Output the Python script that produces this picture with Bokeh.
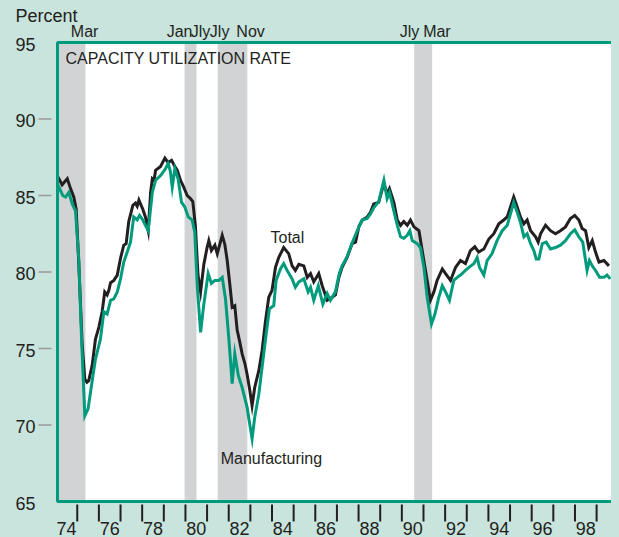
from bokeh.plotting import figure
from bokeh.models import Range1d, BoxAnnotation
from bokeh.core.properties import value
from bokeh.embed import file_html
from bokeh.resources import INLINE

# ---------------- data ----------------
total_x = [1974.09, 1974.15, 1974.30, 1974.42, 1974.54, 1974.69, 1974.84, 1974.95, 1975.07, 1975.23,
           1975.35, 1975.45, 1975.53, 1975.69, 1975.84, 1976.00, 1976.15, 1976.27, 1976.38, 1976.46,
           1976.54, 1976.69, 1976.85, 1977.00, 1977.15, 1977.26, 1977.38, 1977.57, 1977.69, 1977.77,
           1977.85, 1978.03, 1978.15, 1978.28, 1978.39, 1978.47, 1978.55, 1978.62, 1978.85, 1979.05,
           1979.20, 1979.36, 1979.51, 1979.62, 1979.77, 1979.92, 1980.08, 1980.23, 1980.34, 1980.46,
           1980.58, 1980.70, 1980.85, 1981.00, 1981.08, 1981.20, 1981.36, 1981.47, 1981.70, 1981.82,
           1981.93, 1982.05, 1982.16, 1982.28, 1982.39, 1982.50, 1982.62, 1982.75, 1982.85, 1982.97,
           1983.08, 1983.20, 1983.39, 1983.54, 1983.70, 1983.85, 1984.00, 1984.16, 1984.31, 1984.54,
           1984.77, 1984.93, 1985.08, 1985.24, 1985.47, 1985.63, 1985.78, 1985.93, 1986.16, 1986.32,
           1986.55, 1986.78, 1986.93, 1987.09, 1987.24, 1987.47, 1987.70, 1987.86, 1988.01, 1988.17,
           1988.40, 1988.55, 1988.70, 1988.93, 1989.17, 1989.32, 1989.43, 1989.63, 1989.79, 1989.94,
           1990.09, 1990.25, 1990.40, 1990.56, 1990.79, 1990.94, 1991.17, 1991.32, 1991.48, 1991.63,
           1991.87, 1992.02, 1992.25, 1992.48, 1992.71, 1992.94, 1993.17, 1993.37, 1993.55, 1993.79,
           1994.02, 1994.25, 1994.48, 1994.71, 1994.87, 1995.02, 1995.17, 1995.33, 1995.48, 1995.64,
           1995.79, 1995.95, 1996.18, 1996.30, 1996.41, 1996.64, 1996.87, 1997.10, 1997.33, 1997.56,
           1997.79, 1997.99, 1998.18, 1998.33, 1998.49, 1998.64, 1998.80, 1998.95, 1999.11, 1999.34,
           1999.57]
total_y = [86.0, 86.1, 85.7, 85.9, 86.1, 85.45, 84.9, 84.1, 80.6, 75.2,
           73.0, 72.8, 72.9, 73.9, 75.6, 76.4, 77.4, 78.7, 78.5, 78.8,
           79.3, 79.45, 79.8, 80.9, 81.75, 81.85, 83.3, 84.35, 84.5, 84.3,
           84.7, 84.1, 83.6, 82.7, 85.2, 86.1, 86.0, 86.65, 86.9, 87.45,
           87.15, 87.3, 86.9, 86.65, 86.0, 85.55, 85.0, 84.8, 84.6, 83.0,
           79.8, 78.7, 80.5, 81.6, 82.05, 81.4, 81.75, 81.2, 82.4, 81.8,
           80.75, 79.2, 77.7, 77.8, 76.2, 75.5, 74.65, 74.0, 73.3, 72.3,
           71.25, 72.45, 73.55, 74.85, 76.8, 78.35, 78.8, 80.3, 80.95, 81.6,
           81.2, 80.4, 80.1, 80.5, 80.4, 79.65, 79.9, 79.35, 79.9, 79.1,
           78.15, 78.35, 78.5, 79.65, 80.3, 80.95, 81.85, 81.95, 82.95, 83.4,
           83.6, 83.9, 84.45, 84.55, 85.8, 85.1, 85.45, 84.55, 83.4, 83.05,
           83.3, 83.05, 83.4, 82.95, 82.7, 81.4, 79.45, 78.15, 78.7, 79.45,
           80.2, 79.9, 79.45, 80.3, 80.75, 80.55, 81.4, 81.65, 81.3, 81.5,
           82.15, 82.5, 83.15, 83.4, 83.6, 84.25, 84.9, 84.25, 83.6, 83.15,
           83.4, 82.7, 82.3, 81.95, 82.5, 83.05, 82.7, 82.5, 82.7, 82.95,
           83.5, 83.7, 83.4, 82.85, 82.7, 81.6, 82.05, 81.3, 80.65, 80.75,
           80.4]

mfg_x = [1974.09, 1974.15, 1974.33, 1974.46, 1974.61, 1974.77, 1974.92, 1975.07, 1975.20, 1975.35,
         1975.50, 1975.66, 1975.84, 1976.07, 1976.23, 1976.38, 1976.54, 1976.69, 1976.85, 1977.00,
         1977.15, 1977.31, 1977.46, 1977.61, 1977.77, 1977.88, 1978.03, 1978.15, 1978.28, 1978.47,
         1978.62, 1978.85, 1979.08, 1979.20, 1979.30, 1979.39, 1979.51, 1979.66, 1979.82, 1979.97,
         1980.13, 1980.31, 1980.43, 1980.55, 1980.70, 1980.85, 1981.05, 1981.20, 1981.36, 1981.54,
         1981.70, 1981.85, 1982.00, 1982.16, 1982.28, 1982.44, 1982.62, 1982.85, 1983.00, 1983.08,
         1983.20, 1983.39, 1983.54, 1983.73, 1983.88, 1984.08, 1984.19, 1984.39, 1984.54, 1984.70,
         1984.93, 1985.08, 1985.24, 1985.47, 1985.67, 1985.78, 1985.93, 1986.14, 1986.35, 1986.55,
         1986.70, 1986.93, 1987.11, 1987.24, 1987.47, 1987.70, 1988.00, 1988.17, 1988.40, 1988.55,
         1988.70, 1988.93, 1989.17, 1989.32, 1989.43, 1989.63, 1989.79, 1989.94, 1990.09, 1990.25,
         1990.37, 1990.48, 1990.71, 1990.86, 1991.02, 1991.17, 1991.37, 1991.53, 1991.71, 1991.87,
         1992.02, 1992.20, 1992.40, 1992.56, 1992.71, 1992.94, 1993.10, 1993.33, 1993.48, 1993.59,
         1993.79, 1993.94, 1994.17, 1994.40, 1994.64, 1994.87, 1995.02, 1995.17, 1995.33, 1995.48,
         1995.64, 1995.79, 1995.95, 1996.10, 1996.21, 1996.33, 1996.49, 1996.67, 1996.87, 1997.10,
         1997.33, 1997.56, 1997.79, 1997.99, 1998.18, 1998.36, 1998.56, 1998.67, 1998.80, 1998.95,
         1999.14, 1999.34, 1999.48, 1999.63]
mfg_y = [85.4, 85.55, 85.0, 84.9, 85.2, 84.45, 84.0, 80.85, 75.6, 70.6,
         71.05, 72.6, 74.3, 75.6, 77.4, 77.25, 78.15, 78.25, 78.7, 79.55,
         80.65, 81.3, 81.95, 83.6, 83.4, 83.7, 83.4, 83.05, 82.7, 85.2,
         86.0, 86.3, 86.75, 87.1, 86.6, 85.55, 86.75, 86.1, 84.55, 84.25,
         83.6, 83.4, 82.6, 79.0, 76.05, 77.9, 79.9, 79.25, 79.45, 79.45,
         79.65, 78.25, 75.75, 72.7, 74.65, 73.25, 72.45, 71.15, 69.8, 69.1,
         70.5, 72.0, 73.75, 75.95, 77.6, 77.8, 79.45, 80.2, 80.55, 80.1,
         79.55, 79.0, 79.35, 79.55, 78.7, 79.0, 78.15, 79.1, 77.9, 78.6,
         78.15, 78.7, 79.9, 80.4, 81.0, 81.9, 82.9, 83.4, 83.5, 83.8,
         84.2, 84.6, 86.0, 84.8, 85.2, 84.0, 83.05, 82.3, 82.2, 82.4,
         82.7, 82.05, 81.85, 81.6, 80.3, 78.35, 76.6, 77.25, 78.35, 79.1,
         78.7, 78.15, 79.45, 79.65, 79.8, 80.1, 80.3, 80.55, 80.95, 80.3,
         79.8, 80.75, 81.2, 82.05, 82.7, 83.05, 83.8, 84.55, 83.9, 83.25,
         82.3, 82.5, 81.85, 81.4, 80.85, 80.85, 81.85, 81.95, 81.5, 81.6,
         81.75, 82.05, 82.5, 82.75, 82.3, 81.95, 80.1, 80.75, 80.4, 80.1,
         79.65, 79.65, 79.8, 79.55]

rec_start = [1973.85, 1979.96, 1981.49, 1990.57]
rec_end = [1975.38, 1980.51, 1982.86, 1991.40]
rec_labels = ["Mar", "Jan", "Jly", "Jly", "Nov", "Jly", "Mar"]
rec_label_x = [1975.34, 1979.73, 1980.70, 1981.58, 1983.01, 1990.35, 1991.62]

y_ticks = [65, 70, 75, 80, 85, 90, 95]
y_tick_labels = ["65", "70", "75", "80", "85", "90", "95"]
year_ticks = list(range(1975, 2000))
year_labels = ["74", "76", "78", "80", "82", "84", "86", "88", "90", "92", "94", "96", "98"]
year_label_x = [1974.5, 1976.5, 1978.5, 1980.5, 1982.5, 1984.5, 1986.5, 1988.5,
                1990.5, 1992.5, 1994.5, 1996.5, 1998.5]

# ---------------- layout constants (chart space) ----------------
X0 = 1974.088            # left edge of the white plot area
XMIN, XMAX = 1971.823, 2000.058
Y0, Y1 = 65, 95          # value range of the plot area
YMIN, YMAX = 62.647, 97.222

BG = "#c8e4dc"
TEAL = "#009b7d"
GREEN = "#009b7d"
INK = "#231f20"
BAND = "#d1d3d4"
FONT = "Liberation Sans"
ANN = "16px"

p = figure(width=611, height=529,
           x_range=Range1d(XMIN, XMAX), y_range=Range1d(YMIN, YMAX),
           output_backend="svg", toolbar_location=None,
           x_axis_location=None, y_axis_location=None,
           min_border=0, border_fill_color=BG, background_fill_color=BG,
           outline_line_color=None)
p.xgrid.visible = False
p.ygrid.visible = False

px_x = (XMAX - XMIN) / 611.0
px_y = (YMAX - YMIN) / 529.0

# white plot area
p.add_layout(BoxAnnotation(left=X0, right=XMAX + 2, bottom=Y0, top=Y1, fill_color="white",
                           fill_alpha=1.0, line_color=None, level="underlay"))

# recession bands (clipped to the plot area)
p.quad(left=[max(s, X0) for s in rec_start], right=rec_end, bottom=Y0, top=Y1,
       fill_color=BAND, line_color=None)

# series
p.line(total_x, total_y, line_color=INK, line_width=3, line_join="miter")
p.line(mfg_x, mfg_y, line_color=GREEN, line_width=3, line_join="miter")

# plot-area border (left, top, bottom; right edge lies outside the picture)
p.add_layout(BoxAnnotation(left=X0, right=XMAX + 2, bottom=Y0, top=Y1, fill_alpha=0,
                           line_color=TEAL, line_alpha=1.0, line_width=3, level="overlay"))

# y ticks (short grey dashes left of the frame) and labels
inner = y_ticks[1:-1]
p.segment(x0=[X0 - 19 * px_x] * len(inner), y0=inner, x1=[X0 - 6 * px_x] * len(inner), y1=inner,
          line_color="#999999", line_width=1.5)
p.text(x=[X0 - 22 * px_x] * len(y_ticks), y=[v - 2 * px_y for v in y_ticks], text=y_tick_labels,
       text_align="right", text_baseline="middle", text_font=value(FONT),
       text_font_size="18px", text_color=INK)

# x ticks (each year) and labels (centred in the year)
p.segment(x0=year_ticks, y0=[Y0 - 3 * px_y] * len(year_ticks),
          x1=year_ticks, y1=[Y0 - 20 * px_y] * len(year_ticks),
          line_color=INK, line_width=2)
p.text(x=year_label_x, y=[Y0 - 21 * px_y] * len(year_label_x), text=year_labels,
       text_align="center", text_baseline="top", text_font=value(FONT),
       text_font_size="18px", text_color=INK)

# recession month labels above the frame
p.text(x=rec_label_x, y=[Y1 + 11 * px_y] * len(rec_label_x), text=rec_labels,
       text_align="center", text_baseline="alphabetic", text_font=value(FONT),
       text_font_size=ANN, text_color=INK)

# other texts
p.text(x=[X0 - 42 * px_x], y=[Y1 + 26 * px_y], text=["Percent"], text_align="left",
       text_baseline="alphabetic", text_font=value(FONT), text_font_size="18px", text_color=INK)
p.text(x=[X0 + 8 * px_x], y=[Y1 - 16 * px_y], text=["CAPACITY UTILIZATION RATE"],
       text_align="left", text_baseline="alphabetic", text_font=value(FONT),
       text_font_size=ANN, text_color=INK)
p.text(x=[1983.93], y=[81.94 + 5 * px_y], text=["Total"], text_align="left",
       text_baseline="alphabetic", text_font=value(FONT), text_font_size=ANN, text_color=INK)
p.text(x=[1981.63], y=[67.46 + 5 * px_y], text=["Manufacturing"], text_align="left",
       text_baseline="alphabetic", text_font=value(FONT), text_font_size=ANN, text_color=INK)

html = file_html(p, INLINE)
html = html.replace("</head>", "<style>html,body{background:%s;}body{margin:8px;}</style></head>" % BG, 1)
open("out.html", "w").write(html)
